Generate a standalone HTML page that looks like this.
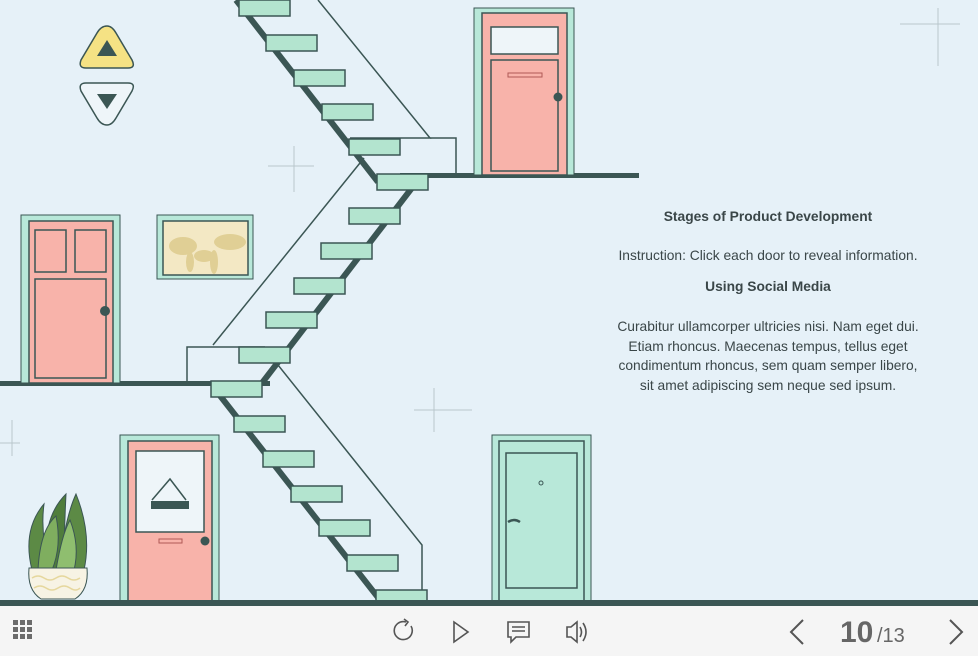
<!DOCTYPE html>
<html><head><meta charset="utf-8"><style>
html,body{margin:0;padding:0;width:978px;height:656px;overflow:hidden;background:#e6f1f8;font-family:"Liberation Sans",sans-serif}
.txt{position:absolute;left:596px;width:344px;text-align:center;color:#3a4648;font-size:13.8px}
</style></head><body>
<svg width="978" height="656" viewBox="0 0 978 656" style="position:absolute;left:0;top:0" xmlns="http://www.w3.org/2000/svg">
<rect width="978" height="656" fill="#e6f1f8"/>
<g stroke="#b9c6cc" stroke-width="1">
<line x1="900" y1="24" x2="960" y2="24"/><line x1="938" y1="8" x2="938" y2="66"/>
<line x1="268" y1="166" x2="314" y2="166"/><line x1="294" y1="146" x2="294" y2="192"/>
<line x1="414" y1="410" x2="472" y2="410"/><line x1="434" y1="388" x2="434" y2="432"/>
<line x1="0" y1="443" x2="20" y2="443"/><line x1="12" y1="420" x2="12" y2="456"/>
</g>
<g stroke="#3b5654" stroke-width="1.5" fill="none">
<polyline points="318,0 430,138 350,138"/><polyline points="430,138 456,138 456,175"/>
<line x1="364" y1="158" x2="213" y2="345"/>
<polyline points="265,347 187,347 187,383"/>
<polyline points="266,350 422,545 422,592"/>
</g>
<g stroke="#3b5654" stroke-width="6" fill="none">
<line x1="236" y1="0" x2="378" y2="182"/>
<line x1="418" y1="180" x2="262" y2="383"/>
<line x1="214" y1="388" x2="380" y2="600"/>
</g>
<rect x="400" y="173" width="239" height="5" fill="#3b5654"/>
<rect x="0" y="381" width="270" height="5" fill="#3b5654"/>
<g fill="#b3e4cf" stroke="#3b5654" stroke-width="1.5">
<rect x="239" y="0" width="51" height="16"/>
<rect x="266" y="35" width="51" height="16"/>
<rect x="294" y="70" width="51" height="16"/>
<rect x="322" y="104" width="51" height="16"/>
<rect x="349" y="139" width="51" height="16"/>
<rect x="377" y="174" width="51" height="16"/>
<rect x="349" y="208" width="51" height="16"/>
<rect x="321" y="243" width="51" height="16"/>
<rect x="294" y="278" width="51" height="16"/>
<rect x="266" y="312" width="51" height="16"/>
<rect x="239" y="347" width="51" height="16"/>
<rect x="211" y="381" width="51" height="16"/>
<rect x="234" y="416" width="51" height="16"/>
<rect x="263" y="451" width="51" height="16"/>
<rect x="291" y="486" width="51" height="16"/>
<rect x="319" y="520" width="51" height="16"/>
<rect x="347" y="555" width="51" height="16"/>
<rect x="376" y="590" width="51" height="16"/>
</g>
<rect x="474" y="8" width="100" height="167" fill="#b8e8d9" stroke="#3b5654" stroke-width="1"/>
<rect x="482" y="13" width="85" height="162" fill="#f8b3aa" stroke="#3b5654" stroke-width="1.5"/>
<rect x="491" y="27" width="67" height="27" fill="#eef5f9" stroke="#3b5654" stroke-width="1.5"/>
<rect x="491" y="60" width="67" height="111" fill="none" stroke="#3b5654" stroke-width="1.5"/>
<rect x="508" y="73" width="34" height="4" fill="none" stroke="#b05a55" stroke-width="1"/>
<circle cx="558" cy="97" r="4.5" fill="#3b5654"/>
<rect x="21" y="215" width="99" height="168" fill="#b8e8d9" stroke="#3b5654" stroke-width="1"/>
<rect x="29" y="221" width="84" height="162" fill="#f8b3aa" stroke="#3b5654" stroke-width="1.5"/>
<g fill="none" stroke="#3b5654" stroke-width="1.5">
<rect x="35" y="230" width="31" height="42"/><rect x="75" y="230" width="31" height="42"/><rect x="35" y="279" width="71" height="99"/>
</g>
<circle cx="105" cy="311" r="5" fill="#3b5654"/>
<rect x="157" y="215" width="96" height="64" fill="#b8e8d9" stroke="#3b5654" stroke-width="1"/>
<rect x="163" y="221" width="85" height="54" fill="#f3e8c4" stroke="#3b5654" stroke-width="1.5"/>
<g fill="#dcc98a" opacity="0.8"><ellipse cx="183" cy="246" rx="14" ry="9"/><ellipse cx="204" cy="256" rx="10" ry="6"/><ellipse cx="230" cy="242" rx="16" ry="8"/><ellipse cx="214" cy="262" rx="4" ry="12"/><ellipse cx="190" cy="262" rx="4" ry="10"/></g>
<rect x="120" y="435" width="99" height="167" fill="#b8e8d9" stroke="#3b5654" stroke-width="1"/>
<rect x="128" y="441" width="84" height="161" fill="#f8b3aa" stroke="#3b5654" stroke-width="1.5"/>
<rect x="136" y="451" width="68" height="81" fill="#eef5f9" stroke="#3b5654" stroke-width="1.5"/>
<polyline points="152,500 170,479 186,500" fill="none" stroke="#3b5654" stroke-width="1.5"/>
<rect x="151" y="501" width="38" height="8" fill="#3b5654"/>
<rect x="159" y="539" width="23" height="4" fill="none" stroke="#b05a55"/>
<circle cx="205" cy="541" r="4.5" fill="#3b5654"/>
<rect x="492" y="435" width="99" height="167" fill="#b8e8d9" stroke="#3b5654" stroke-width="1"/>
<rect x="499" y="441" width="85" height="161" fill="#b8e8d9" stroke="#3b5654" stroke-width="1.5"/>
<rect x="506" y="453" width="71" height="135" fill="none" stroke="#3b5654" stroke-width="1.5"/>
<circle cx="541" cy="483" r="2" fill="none" stroke="#3b5654"/>
<path d="M508 522 q6 -4 12 0" stroke="#3b5654" stroke-width="2.5" fill="none"/>
<g stroke="#3b5654" stroke-width="1">
<path d="M32 570 q-10 -40 12 -66 q-4 30 6 62z" fill="#5c8a45"/>
<path d="M48 570 q-8 -50 18 -76 q-2 40 -2 76z" fill="#4f7d3c"/>
<path d="M60 570 q4 -50 16 -76 q16 40 8 76z" fill="#5c8a45"/>
<path d="M38 570 q2 -40 18 -54 q6 30 -4 54z" fill="#7fae5f"/>
<path d="M56 570 q6 -36 14 -50 q10 26 4 50z" fill="#8fbe6f"/>
</g>
<path d="M29 568 h58 q2 22 -12 31 h-34 q-14 -9 -12 -31z" fill="#f7f3e4" stroke="#3b5654" stroke-width="1"/>
<path d="M32 578 q6 -4 12 0 t12 0 t12 0 t12 0 M34 588 q6 -4 12 0 t12 0 t12 0 t10 0" fill="none" stroke="#e6d79e" stroke-width="1.5"/>
<path d="M107 26 Q101 26 97 33 L81 60 Q78 68 86 68 L128 68 Q136 68 132 60 L116 33 Q112 26 107 26Z" fill="#f5e284" stroke="#3b5654" stroke-width="1.5"/>
<path d="M107 40 L117 56 L97 56Z" fill="#3b5654"/>
<path d="M107 125 Q101 125 97 118 L81 91 Q78 83 86 83 L128 83 Q136 83 132 91 L116 118 Q112 125 107 125Z" fill="#eef5f9" stroke="#3b5654" stroke-width="1.5"/>
<path d="M97 94 L117 94 L107 109Z" fill="#3b5654"/>
<rect x="0" y="600" width="978" height="6" fill="#3b5654"/>
<rect x="0" y="606" width="978" height="50" fill="#f5f5f5"/>
<g fill="#6b6b6b">
<rect x="13" y="620" width="5" height="5"/><rect x="20" y="620" width="5" height="5"/><rect x="27" y="620" width="5" height="5"/>
<rect x="13" y="627" width="5" height="5"/><rect x="20" y="627" width="5" height="5"/><rect x="27" y="627" width="5" height="5"/>
<rect x="13" y="634" width="5" height="5"/><rect x="20" y="634" width="5" height="5"/><rect x="27" y="634" width="5" height="5"/>
</g>
<g fill="none" stroke="#555" stroke-width="1.6">
<path d="M406 622 a9 9 0 1 0 5 4"/><path d="M404 619 l4 3 -3 4"/>
<path d="M454 622 l14 10 -14 10z"/>
<path d="M508 622 h21 v15 h-13 l-5 5 v-5 h-3z"/><path d="M512 627 h13 M512 631 h13"/>
<path d="M567 627 h4 l6 -5 v20 l-6 -5 h-4z"/><path d="M580 627 q3 5 0 10 M583 623 q6 9 0 18"/>
<path d="M803 620 l-12 12 12 12" stroke-width="2"/><path d="M950 620 l12 12 -12 12" stroke-width="2"/>
</g>
<text x="840" y="642" font-family="Liberation Sans, sans-serif" font-size="30" font-weight="bold" fill="#666">10</text>
<text x="877" y="642" font-family="Liberation Sans, sans-serif" font-size="20" fill="#666">/13</text>
</svg>
<div class="txt" style="top:209px;font-weight:bold">Stages of Product Development</div>
<div class="txt" style="top:248px">Instruction: Click each door to reveal information.</div>
<div class="txt" style="top:279px;font-weight:bold">Using Social Media</div>
<div class="txt" style="top:317px;line-height:19.5px">Curabitur ullamcorper ultricies nisi. Nam eget dui.<br>Etiam rhoncus. Maecenas tempus, tellus eget<br>condimentum rhoncus, sem quam semper libero,<br>sit amet adipiscing sem neque sed ipsum.</div>
</body></html>
